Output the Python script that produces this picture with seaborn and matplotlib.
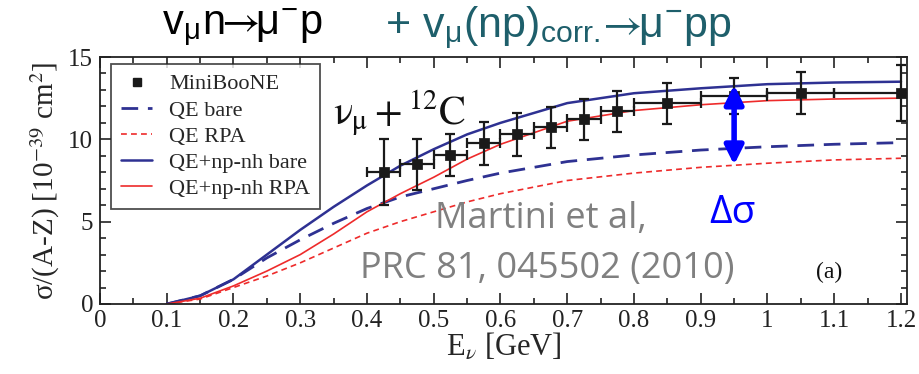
import numpy as np
import pandas as pd
import seaborn as sns
import matplotlib
matplotlib.use("Agg")
import matplotlib.pyplot as plt
from matplotlib.ticker import MultipleLocator, FixedLocator

# ---------------- data ----------------
energy = [0.1, 0.15, 0.2, 0.25, 0.3, 0.35, 0.4, 0.45, 0.5, 0.55, 0.6, 0.7, 0.8, 0.9, 1.0, 1.1, 1.2]
qe_bare = [0.0, 0.5, 1.5, 2.8, 3.9, 4.9, 5.8, 6.5, 7.0, 7.5, 7.95, 8.65, 9.05, 9.35, 9.55, 9.7, 9.8]
qe_rpa = [0.0, 0.3, 1.0, 1.7, 2.5, 3.4, 4.3, 5.0, 5.6, 6.2, 6.7, 7.5, 7.95, 8.3, 8.55, 8.75, 8.85]
qe_npnh_bare = [0.0, 0.5, 1.5, 3.0, 4.5, 5.9, 7.2, 8.4, 9.4, 10.3, 11.0, 12.2, 12.8, 13.1, 13.35, 13.45, 13.5]
qe_npnh_rpa = [0.0, 0.35, 1.1, 2.0, 3.0, 4.25, 5.6, 6.7, 7.7, 8.8, 9.7, 11.1, 11.75, 12.1, 12.35, 12.45, 12.5]

mb_energy = [0.425, 0.475, 0.525, 0.575, 0.625, 0.675, 0.725, 0.775, 0.85, 0.95, 1.05, 1.2]
mb_sigma = [8.0, 8.5, 9.05, 9.75, 10.3, 10.72, 11.22, 11.7, 12.2, 12.65, 12.8, 12.8]
mb_yerr = [2.0, 1.55, 1.27, 1.28, 1.3, 1.27, 1.25, 1.25, 1.24, 1.1, 1.27, 1.7]
mb_xerr = [0.025, 0.025, 0.025, 0.025, 0.025, 0.025, 0.025, 0.025, 0.05, 0.05, 0.05, 0.1]

x_ticks = [0, 0.1, 0.2, 0.3, 0.4, 0.5, 0.6, 0.7, 0.8, 0.9, 1.0, 1.1, 1.2]
x_tick_labels = ["0", "0.1", "0.2", "0.3", "0.4", "0.5", "0.6", "0.7", "0.8", "0.9", "1", "1.1", "1.2"]
y_ticks = [0, 5, 10, 15]

series_names = ["QE bare", "QE RPA", "QE+np-nh bare", "QE+np-nh RPA"]
delta_sigma_x = 0.95
delta_sigma_range = [13.3, 8.45]

# ---------------- style ----------------
sns.set_theme(style="white")
plt.rcParams["font.family"] = ["Liberation Serif", "DejaVu Serif"]
plt.rcParams["mathtext.fontset"] = "stix"

BLUE = "#2e3192"
RED = "#ee2b2b"
TEAL = "#1e5f6b"
SANS = ["Liberation Sans", "DejaVu Sans"]

df = pd.DataFrame({
    "E": energy * 4,
    "sigma": qe_bare + qe_rpa + qe_npnh_bare + qe_npnh_rpa,
    "model": sum([[n] * len(energy) for n in series_names], []),
})

fig = plt.figure(figsize=(9.19, 3.74), dpi=100)
ax = fig.add_axes([100 / 919, 1 - 304 / 374, 807 / 919, 247 / 374])

styles = {
    "QE bare": dict(color=BLUE, lw=2.0, dashes=(6, 3.5)),
    "QE RPA": dict(color=RED, lw=1.2, dashes=(3.5, 2.5)),
    "QE+np-nh bare": dict(color=BLUE, lw=1.8, dashes=None),
    "QE+np-nh RPA": dict(color=RED, lw=1.2, dashes=None),
}
handles = []
for name in series_names:
    st = styles[name]
    sub = df[df.model == name]
    sns.lineplot(data=sub, x="E", y="sigma", ax=ax, color=st["color"], lw=st["lw"],
                 estimator=None, sort=False, legend=False)
    line = ax.lines[-1]
    if st["dashes"] is not None:
        line.set_dashes(st["dashes"])
    line.set_label(name)
    handles.append(line)

ax.errorbar(mb_energy, mb_sigma, xerr=mb_xerr, yerr=mb_yerr, fmt="none",
            ecolor="#1a1a1a", elinewidth=1.6, capsize=3.5, capthick=1.6, zorder=4)
sns.scatterplot(x=mb_energy, y=mb_sigma, ax=ax, marker="s", s=45, color="#1a1a1a",
                edgecolor="#1a1a1a", zorder=5, legend=False)
mb_handle = plt.Line2D([], [], ls="none", marker="s", ms=6, color="#1a1a1a", label="MiniBooNE")

ax.set_xlim(0, 1.209)
ax.set_ylim(0, 15)
ax.xaxis.set_major_locator(FixedLocator(x_ticks))
ax.set_xticklabels(x_tick_labels)
ax.xaxis.set_minor_locator(MultipleLocator(0.05))
ax.yaxis.set_major_locator(FixedLocator(y_ticks))
ax.yaxis.set_minor_locator(MultipleLocator(1))
ax.tick_params(which="both", direction="in", top=True, right=True, bottom=True, left=True,
               colors="#222222", labelsize=18, width=1.2)
ax.tick_params(which="major", length=8)
ax.tick_params(which="minor", length=4)
ax.tick_params(axis="x", pad=4)
ax.tick_params(axis="y", pad=5)
for s in ax.spines.values():
    s.set_color("#222222")
    s.set_linewidth(1.3)

ax.set_xlabel(r"E$_\nu$ [GeV]", fontsize=22, labelpad=0)
ax.set_ylabel(r"σ/(A-Z) [10$^{-39}$ cm$^2$]", fontsize=21, labelpad=4)

leg = ax.legend(handles=[mb_handle] + handles, loc="upper left", bbox_to_anchor=(0.014, 0.972),
                borderaxespad=0, fontsize=16, frameon=True, fancybox=False,
                handlelength=1.4, handletextpad=0.75, labelspacing=0.25, borderpad=0.45)
leg.get_frame().set_edgecolor("#222222")
leg.get_frame().set_linewidth(1.3)

ax.text(0.349, 10.9, r"$\mathrm{\nu}_\mathrm{\mu} + ^{12}\mathrm{C}$", fontsize=29, color="#111111")
ax.text(0.661, 4.6, "Martini et al,", fontsize=26, color="#808080", ha="center",
        family=["Open Sans", "DejaVu Sans"])
ax.text(0.67, 1.55, "PRC 81, 045502 (2010)", fontsize=26, color="#808080", ha="center",
        family=["Open Sans", "DejaVu Sans"])
ax.text(1.093, 1.6, "(a)", fontsize=17, color="#111111", ha="center")
ax.text(delta_sigma_x - 0.003, 4.9, "Δσ", fontsize=28, color="#0000ff", ha="center",
        family=["Open Sans", "DejaVu Sans"])
ax.annotate("", xy=(delta_sigma_x, delta_sigma_range[0]), xytext=(delta_sigma_x, delta_sigma_range[1]),
            arrowprops=dict(arrowstyle="<|-|>", color="#0000ff", lw=4, mutation_scale=28,
                            shrinkA=0, shrinkB=0), zorder=6)

ARROW = r"$\!\!\rightarrow\!\!$"
fig.text(162 / 919, 0.925, r"v$_\mathregular{μ}$n" + ARROW + r"μ$^\mathregular{-}$p",
         fontsize=30, color="black", family=SANS, va="center")
fig.text(385 / 919, 0.925, r"+ v$_\mathregular{μ}$(np)$_\mathregular{corr.}$" + ARROW + r"μ$^\mathregular{-}$pp",
         fontsize=31, color=TEAL, family=SANS, va="center")

fig.savefig("out.png", dpi=100)
